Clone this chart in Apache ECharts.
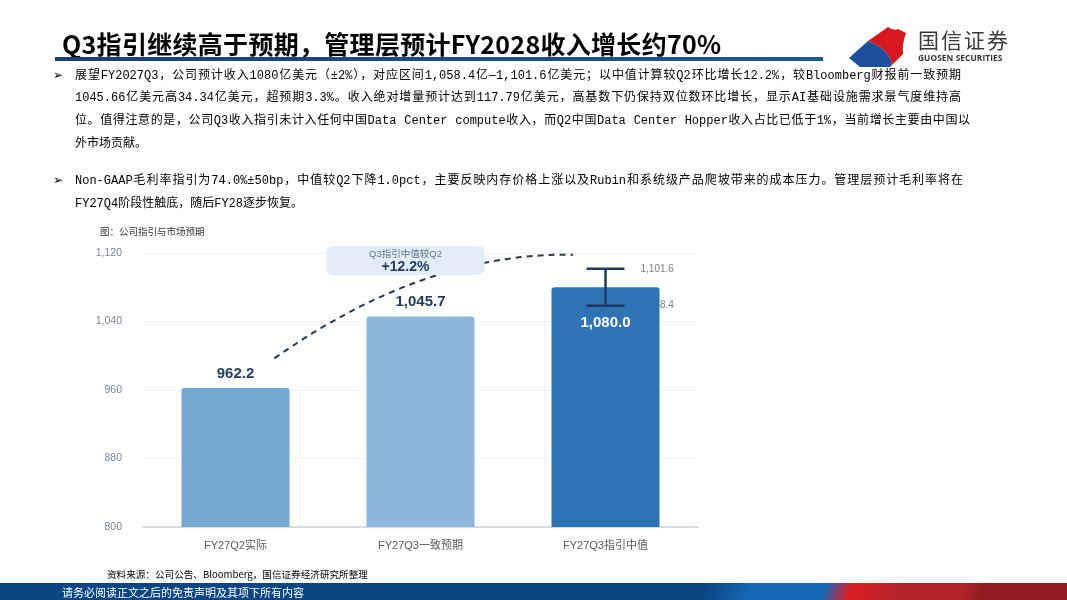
<!DOCTYPE html>
<html>
<head>
<meta charset="utf-8">
<script src="https://cdn.jsdelivr.net/npm/echarts@6.0.0/dist/echarts.min.js"></script>
<style>
  html, body { margin: 0; padding: 0; width: 1067px; height: 600px; overflow: hidden; background: #fff; }
  #echart { position: absolute; left: 0; top: 0; width: 1067px; height: 600px; }
  .layer { position: absolute; left: 0; top: 0; width: 1067px; height: 600px; pointer-events: none; }
  .title { position: absolute; left: 62px; top: 30px; font: bold 25px "Noto Sans CJK SC"; line-height: 26px; color: #000; white-space: nowrap; letter-spacing: 0.3px; }
  .rule { position: absolute; left: 55px; top: 57px; width: 768px; height: 4px; background: linear-gradient(to right, #1c3f72, #1b5796); }
  .brand { position: absolute; left: 918px; top: 24px; font: 21px "Noto Sans CJK SC"; color: #3a3a3a; letter-spacing: 2px; }
  .brand-en { position: absolute; left: 918px; top: 52px; font: bold 8.3px "Open Sans", sans-serif; color: #333; letter-spacing: 0.1px; }
  .logo { position: absolute; left: 846px; top: 22px; }
  .p { position: absolute; left: 75px; font: 12px "Liberation Mono", "Noto Sans CJK SC"; color: #000; white-space: nowrap; line-height: 14px; }
  .p.j { text-align: justify; text-align-last: justify; white-space: normal; }
  .bullet { position: absolute; left: 53px; font: 12px "DejaVu Sans"; color: #000; }
  .cap { position: absolute; left: 100px; top: 224px; font: 9.5px "Noto Sans CJK SC"; color: #333; }
  .src { position: absolute; left: 107px; top: 567px; font: 9.6px "Noto Sans CJK SC"; color: #000; }
  .foot { position: absolute; left: 0; top: 583px; width: 1067px; height: 17px;
    background: linear-gradient(110deg, #0b4683 0%, #0b4683 66%, #1566b3 70%, #1566b3 77%, #dd1c23 79.5%, #b3232a 84%, #b3232a 90%, #8d1b21 92%, #8d1b21 100%); }
  .foot span { position: absolute; left: 62px; top: 1px; font: 11px "Noto Sans CJK SC"; color: #fff; }
</style>
</head>
<body>
<div id="echart"></div>
<div class="layer">
  <div class="title">Q3指引继续高于预期，管理层预计FY2028收入增长约70%</div>
  <div class="rule"></div>
  <svg class="logo" width="70" height="46" viewBox="0 0 70 46">
    <path d="M22 19 L42 5 Q48 9 52 7 L60 11 Q56 22 57 32 L46 43 Q43 27 22 19 Z" fill="#d7191f"/>
    <path d="M3 36 L22 19 Q43 27 46 43 L44 45 L14 45 Z" fill="#1d4e9e"/>
  </svg>
  <div class="brand">国信证券</div>
  <div class="brand-en">GUOSEN SECURITIES</div>

  <div class="bullet" style="top:68px">➢</div>
  <div class="p j" style="top:69px;width:886px">展望FY2027Q3，公司预计收入1080亿美元（±2%），对应区间1,058.4亿—1,101.6亿美元；以中值计算较Q2环比增长12.2%，较Bloomberg财报前一致预期</div>
  <div class="p j" style="top:91px;width:886px">1045.66亿美元高34.34亿美元，超预期3.3%。收入绝对增量预计达到117.79亿美元，高基数下仍保持双位数环比增长，显示AI基础设施需求景气度维持高</div>
  <div class="p j" style="top:114px;width:895px">位。值得注意的是，公司Q3收入指引未计入任何中国Data Center compute收入，而Q2中国Data Center Hopper收入占比已低于1%，当前增长主要由中国以</div>
  <div class="p" style="top:137px">外市场贡献。</div>

  <div class="bullet" style="top:173px">➢</div>
  <div class="p j" style="top:174px;width:888px">Non-GAAP毛利率指引为74.0%±50bp，中值较Q2下降1.0pct，主要反映内存价格上涨以及Rubin和系统级产品爬坡带来的成本压力。管理层预计毛利率将在</div>
  <div class="p" style="top:197px">FY27Q4阶段性触底，随后FY28逐步恢复。</div>

  <div class="cap">图：公司指引与市场预期</div>
  <div class="src">资料来源：公司公告、Bloomberg，国信证券经济研究所整理</div>
  <div class="foot"><span>请务必阅读正文之后的免责声明及其项下所有内容</span></div>
</div>
<script>
var categories = ['FY27Q2实际', 'FY27Q3一致预期', 'FY27Q3指引中值'];
var revenue = [962.2, 1045.7, 1080.0];
var barColors = ['#74a8d3', '#8cb6dc', '#2e74b5'];
var guideLow = 1058.4;
var guideHigh = 1101.6;
var growthTitle = 'Q3指引中值较Q2';
var growthValue = '+12.2%';
var arcValues = [997, 1118];
var yMin = 800, yMax = 1120, yStep = 80;

function fmt1(v) {
  return v.toLocaleString('en-US', { minimumFractionDigits: 1, maximumFractionDigits: 1 });
}

var myChart = echarts.init(document.getElementById('echart'));
var font = '"Liberation Sans", "Noto Sans CJK SC", sans-serif';
var navy = '#1f3a5f';

var option = {
  animation: false,
  grid: { left: 143, right: 369, top: 253, bottom: 73 },
  xAxis: {
    type: 'category',
    data: categories,
    axisTick: { show: false },
    axisLine: { lineStyle: { color: '#ccd3dc', width: 1.5 } },
    axisLabel: { color: '#5a5a5a', fontSize: 11, fontFamily: font, margin: 13 }
  },
  yAxis: {
    type: 'value',
    min: yMin,
    max: yMax,
    interval: yStep,
    axisLine: { show: false },
    axisTick: { show: false },
    splitLine: { lineStyle: { color: '#f1f2f4', width: 1 } },
    axisLabel: {
      color: '#7d8591', fontSize: 10.5, fontFamily: font, margin: 21,
      formatter: function (v) { return v.toLocaleString('en-US'); }
    }
  },
  series: [
    {
      // guide range labels, drawn under the bars
      type: 'custom',
      z: 1,
      silent: true,
      clip: false,
      data: [[2, guideLow, guideHigh]],
      renderItem: function (params, api) {
        var lo = api.coord([api.value(0), api.value(1)]);
        var hi = api.coord([api.value(0), api.value(2)]);
        var st = { fill: '#7f7f7f', fontSize: 10, fontFamily: font, verticalAlign: 'middle' };
        return {
          type: 'group',
          children: [
            { type: 'text', x: hi[0] + 35, y: hi[1], style: Object.assign({ text: fmt1(api.value(2)) }, st) },
            { type: 'text', x: lo[0] + 35, y: lo[1], style: Object.assign({ text: fmt1(api.value(1)) }, st) }
          ]
        };
      }
    },
    {
      type: 'bar',
      z: 2,
      barWidth: 108,
      data: revenue.map(function (v, i) {
        var item = { value: v, itemStyle: { color: barColors[i], borderRadius: [3, 3, 0, 0] } };
        if (i === 2) {
          item.label = { position: 'insideTop', distance: 28, color: '#fff' };
        }
        return item;
      }),
      label: {
        show: true,
        position: 'top',
        distance: 7,
        color: navy,
        fontSize: 15,
        fontWeight: 'bold',
        fontFamily: font,
        formatter: function (p) { return fmt1(p.value); }
      }
    },
    {
      // guide range whisker
      type: 'custom',
      z: 3,
      silent: true,
      clip: false,
      data: [[2, guideLow, guideHigh]],
      renderItem: function (params, api) {
        var lo = api.coord([api.value(0), api.value(1)]);
        var hi = api.coord([api.value(0), api.value(2)]);
        var w = 19;
        var st = { stroke: navy, lineWidth: 2.5 };
        return {
          type: 'group',
          children: [
            { type: 'line', shape: { x1: hi[0], y1: hi[1], x2: lo[0], y2: lo[1] }, style: st },
            { type: 'line', shape: { x1: hi[0] - w, y1: hi[1], x2: hi[0] + w, y2: hi[1] }, style: st },
            { type: 'line', shape: { x1: lo[0] - w, y1: lo[1], x2: lo[0] + w, y2: lo[1] }, style: st }
          ]
        };
      }
    },
    {
      // dashed growth arc with callout box
      type: 'custom',
      z: 4,
      silent: true,
      clip: false,
      data: [[0, arcValues[0], arcValues[1]]],
      renderItem: function (params, api) {
        var bw = api.size([1, 0])[0];
        var p0 = api.coord([0, api.value(1)]);
        var p2 = api.coord([2, api.value(2)]);
        var mid = api.coord([1, yMax]);
        var sx = p0[0] + 0.21 * bw, sy = p0[1];
        var ex = p2[0] - 0.175 * bw, ey = p2[1];
        var cx = mid[0] + 5, cy = mid[1] - 1;
        var bx = mid[0] - 15, by = mid[1] - 7;
        return {
          type: 'group',
          children: [
            {
              type: 'bezierCurve',
              shape: { x1: sx, y1: sy, x2: ex, y2: ey, cpx1: cx, cpy1: cy },
              style: { stroke: '#2b3a4f', lineWidth: 2, lineDash: [6, 5], fill: null }
            },
            {
              type: 'rect',
              shape: { x: bx - 79, y: by, width: 158, height: 29, r: 6 },
              style: { fill: '#e3edf8' }
            },
            {
              type: 'text', x: bx, y: by + 8,
              style: { text: growthTitle, fill: '#5f7088', fontSize: 9.5, fontFamily: font, align: 'center', verticalAlign: 'middle' }
            },
            {
              type: 'text', x: bx, y: by + 21,
              style: { text: growthValue, fill: navy, fontSize: 14, fontWeight: 'bold', fontFamily: font, align: 'center', verticalAlign: 'middle' }
            }
          ]
        };
      }
    }
  ]
};

myChart.setOption(option);
</script>
</body>
</html>
